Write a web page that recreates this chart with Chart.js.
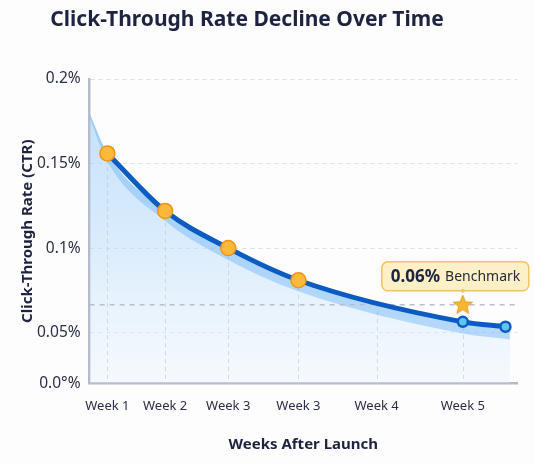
<!DOCTYPE html>
<html>
<head>
<meta charset="utf-8">
<script src="https://cdn.jsdelivr.net/npm/chart.js@4"></script>
<style>
  body { margin: 0; background: #fdfdfe; }
  #wrap { width: 535px; height: 465px; }
</style>
</head>
<body>
<div id="wrap"><canvas id="ctrChart" width="535" height="465"></canvas></div>
<script>
// weeks after launch (x) and CTR in percent (y)
const ctrWeeks = [1, 1.65, 2.36, 3.15, 5, 5.48];
const ctrValues = [0.156, 0.122, 0.100, 0.081, 0.0564, 0.0535];

// shaded envelope under the curve
const areaWeeks = [0.8, 1, 1.65, 2.36, 3.15, 5, 5.53];
const areaValues = [0.1795, 0.156, 0.122, 0.100, 0.081, 0.0564, 0.053];
const bandValues = [0.177, 0.151, 0.116, 0.093, 0.0745, 0.0495, 0.046];

const benchmarkValue = 0.0665;
const benchmarkWeek = 5;
const benchmarkLabel = '0.06%';

const weekTicks = [1, 1.65, 2.36, 3.15, 4.03, 5];
const weekLabels = ['Week 1', 'Week 2', 'Week 3', 'Week 3', 'Week 4', 'Week 5'];
const ctrTicks = [0.02, 0.05, 0.1, 0.15, 0.2];
const ctrTickLabels = ['0.0°%', '0.05%', '0.1%', '0.15%', '0.2%'];

const FONT = '"Noto Sans", "Open Sans", sans-serif';

function starImage() {
    const c = document.createElement('canvas');
    c.width = 22; c.height = 22;
    const g = c.getContext('2d');
    g.beginPath();
    for (let i = 0; i < 10; i++) {
        const r = i % 2 === 0 ? 10 : 4.3;
        const a = -Math.PI / 2 + i * Math.PI / 5;
        g.lineTo(11 + r * Math.cos(a), 11.5 + r * Math.sin(a));
    }
    g.closePath();
    g.fillStyle = '#f8b631';
    g.fill();
    g.lineWidth = 1;
    g.strokeStyle = '#e59a19';
    g.stroke();
    return c;
}

const titlePlugin = {
    id: 'titleText',
    afterDraw(chart) {
        const ctx = chart.ctx;
        ctx.save();
        ctx.font = 'bold 21px ' + FONT;
        ctx.fillStyle = '#1e2340';
        ctx.textAlign = 'center';
        ctx.textBaseline = 'middle';
        ctx.fillText('Click-Through Rate Decline Over Time', 247, 20);
        ctx.restore();
    }
};

// vertical dashed guides, only under the curve
const dropLines = {
    id: 'dropLines',
    beforeDatasetsDraw(chart) {
        const ctx = chart.ctx;
        const area = chart.chartArea;
        const x = chart.scales.x;
        const line = chart.getDatasetMeta(0).dataset;
        const pts = line.points;
        ctx.save();
        try {
            ctx.beginPath();
            line.path(ctx);
            ctx.lineTo(pts[pts.length - 1].x, area.bottom);
            ctx.lineTo(pts[0].x, area.bottom);
            ctx.closePath();
            ctx.clip();
        } catch (e) {}
        ctx.setLineDash([4, 4]);
        ctx.lineWidth = 1;
        ctx.strokeStyle = '#c9cedb';
        ctx.beginPath();
        weekTicks.forEach(w => {
            const px = Math.round(x.getPixelForValue(w)) + 0.5;
            ctx.moveTo(px, area.top);
            ctx.lineTo(px, area.bottom);
        });
        ctx.stroke();
        ctx.restore();
    }
};

const benchmarkBox = {
    id: 'benchmarkBox',
    afterDatasetsDraw(chart) {
        const star = chart.getDatasetMeta(4).data[0];
        if (!star) return;
        const ctx = chart.ctx;
        const left = star.x - 81, top = star.y - 43, w = 147, h = 29;
        ctx.save();
        ctx.beginPath();
        ctx.roundRect(left, top, w, h, 6);
        ctx.fillStyle = '#fdefc6';
        ctx.fill();
        ctx.lineWidth = 1.5;
        ctx.strokeStyle = '#f2c462';
        ctx.stroke();
        ctx.beginPath();
        ctx.arc(star.x, top + h, 2, 0, Math.PI * 2);
        ctx.fillStyle = '#f2c462';
        ctx.fill();
        ctx.textBaseline = 'middle';
        ctx.textAlign = 'left';
        ctx.fillStyle = '#1e2340';
        ctx.font = 'bold 17px ' + FONT;
        ctx.fillText(benchmarkLabel, left + 9, top + h / 2 + 1);
        const tw = ctx.measureText(benchmarkLabel).width;
        ctx.font = '14px ' + FONT;
        ctx.fillStyle = '#262b40';
        ctx.fillText('Benchmark', left + 9 + tw + 5, top + h / 2 + 1);
        ctx.restore();
    }
};

const toPoints = (xs, ys) => xs.map((v, i) => ({ x: v, y: ys[i] }));

const ctx = document.getElementById('ctrChart').getContext('2d');
new Chart(ctx, {
    type: 'line',
    data: {
        datasets: [
            {
                // soft fill under the curve
                data: toPoints(areaWeeks, areaValues),
                order: 4,
                borderWidth: 0,
                pointRadius: 0,
                cubicInterpolationMode: 'monotone',
                fill: 'start',
                backgroundColor: (c) => {
                    const a = c.chart.chartArea;
                    if (!a) return 'rgba(180,215,248,0.4)';
                    const g = c.chart.ctx.createLinearGradient(0, a.top, 0, a.bottom);
                    g.addColorStop(0, 'rgba(150,200,247,0.6)');
                    g.addColorStop(0.55, 'rgba(185,220,250,0.5)');
                    g.addColorStop(1, 'rgba(230,241,253,0.35)');
                    return g;
                }
            },
            {
                // brighter band just under the line
                data: toPoints(areaWeeks, bandValues),
                order: 3,
                borderWidth: 0,
                pointRadius: 0,
                cubicInterpolationMode: 'monotone',
                fill: '-1',
                backgroundColor: 'rgba(110,180,245,0.45)'
            },
            {
                label: 'CTR',
                data: toPoints(ctrWeeks, ctrValues),
                order: 1,
                borderColor: '#0b5bc3',
                borderWidth: 5,
                cubicInterpolationMode: 'monotone',
                fill: false,
                pointRadius: [7.5, 7.5, 7.5, 7.5, 5, 5],
                pointBorderWidth: [1.5, 1.5, 1.5, 1.5, 2.5, 2.5],
                pointBackgroundColor: ['#fbb93c', '#fbb93c', '#fbb93c', '#fbb93c', '#5ec4ea', '#5ec4ea'],
                pointBorderColor: ['#ee9418', '#ee9418', '#ee9418', '#ee9418', '#0b5bc3', '#0b5bc3']
            },
            {
                // benchmark guide
                data: [{ x: 0.8, y: benchmarkValue }, { x: 5.61, y: benchmarkValue }],
                order: 2,
                borderColor: '#b9bfcf',
                borderWidth: 1.5,
                borderDash: [5, 5],
                pointRadius: 0,
                fill: false
            },
            {
                data: [{ x: benchmarkWeek, y: benchmarkValue }],
                order: 0,
                showLine: false,
                pointStyle: starImage(),
                pointRadius: 10
            }
        ]
    },
    options: {
        responsive: false,
        animation: false,
        layout: { padding: { top: 79, left: 8, right: 18, bottom: 11 } },
        plugins: {
            legend: { display: false },
            tooltip: { enabled: false }
        },
        scales: {
            x: {
                type: 'linear',
                min: 0.8,
                max: 5.61,
                afterBuildTicks: (s) => { s.ticks = weekTicks.map(v => ({ value: v })); },
                ticks: {
                    autoSkip: false,
                    maxRotation: 0,
                    padding: 15,
                    color: '#2a2f45',
                    font: { family: FONT, size: 13 },
                    callback: (v, i) => weekLabels[i]
                },
                grid: { display: false, drawTicks: false },
                border: { display: true, color: '#b6bbc9', width: 2.5 },
                title: {
                    display: true,
                    text: 'Weeks After Launch',
                    color: '#1e2340',
                    font: { family: FONT, size: 15, weight: 'bold' },
                    padding: { top: 7, bottom: 0 }
                }
            },
            y: {
                type: 'linear',
                min: 0.02,
                max: 0.2,
                afterBuildTicks: (s) => { s.ticks = ctrTicks.map(v => ({ value: v })); },
                ticks: {
                    padding: 9,
                    color: '#2a2f45',
                    font: { family: FONT, size: 15.5 },
                    callback: (v, i) => ctrTickLabels[i]
                },
                grid: { color: '#dcdfe8', lineWidth: 1, drawTicks: false },
                border: { display: true, color: '#b6bbc9', width: 2.5, dash: [4, 4] },
                title: {
                    display: true,
                    text: 'Click-Through Rate (CTR)',
                    color: '#1e2340',
                    font: { family: FONT, size: 15, weight: 'bold' },
                    padding: { top: 11, bottom: -9 }
                }
            }
        }
    },
    plugins: [dropLines, benchmarkBox, titlePlugin]
});
</script>
</body>
</html>
